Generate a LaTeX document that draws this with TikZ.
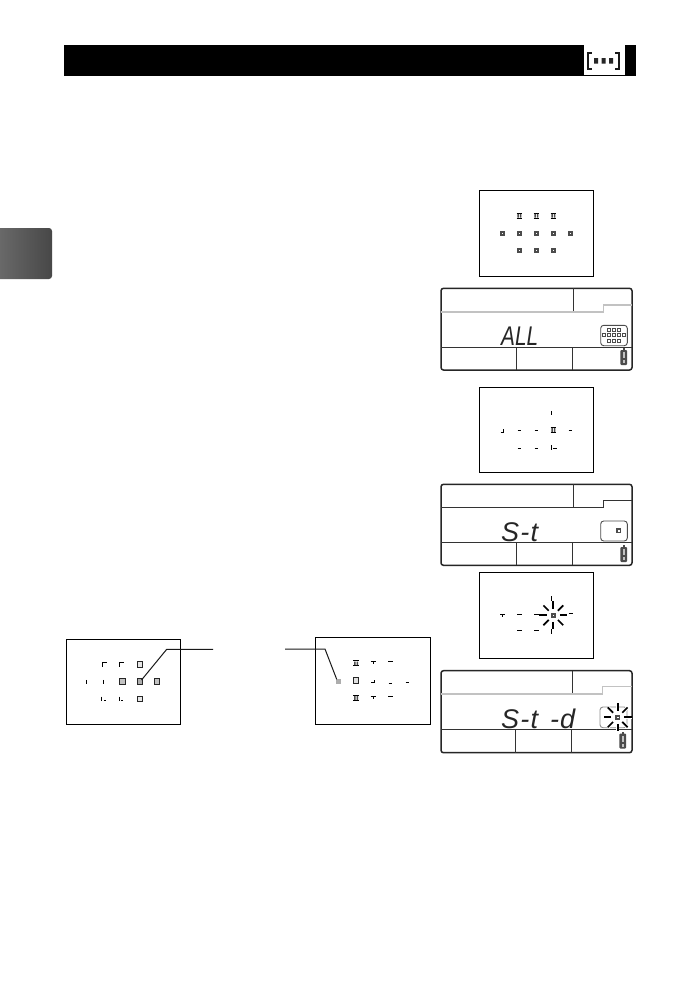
\documentclass[tikz,border=0pt]{standalone}
\usepackage{fontspec}
\setmainfont{Liberation Sans}
\usetikzlibrary{shadings}
\definecolor{lcdgrey}{gray}{0.76}
\definecolor{ptgrey}{gray}{0.68}
\tikzset{
  vf/.style={draw=black,line width=1pt,fill=white},
  lcdo/.style={draw=black!85,line width=1.5pt,rounded corners=2.5pt},
  lcdl/.style={draw=black!80,line width=0.9pt},
  lcdg/.style={draw=lcdgrey,line width=1.2pt},
  tick/.style={draw=black,line width=1pt},
  leader/.style={draw=black!90,line width=1pt},
  seg/.style={font=\itshape\fontsize{27}{27}\selectfont,text=black!85,inner sep=0pt,anchor=base west},
  burst/.style={draw=black,line width=1.7pt},
  halo/.style={draw=white,line width=3.5pt},
}
\newcommand{\afdot}[2]{\fill[black!70] (#1-2.4,#2-2.4) rectangle (#1+2.4,#2+2.4);
  \fill[white] (#1-0.8,#2-0.8) rectangle (#1+0.8,#2+0.8);}
\newcommand{\icondot}[2]{\draw[black!70,line width=0.7pt,fill=white] (#1-1.5,#2-1.5) rectangle (#1+1.5,#2+1.5);}
\newcommand{\afbar}[2]{\draw[tick,line width=1.1pt] (#1-2.7,#2-2.6) -- (#1+2.7,#2-2.6) (#1-2.7,#2+2.6) -- (#1+2.7,#2+2.6);
  \fill[black!70] (#1-2,#2-1.8) rectangle (#1-0.5,#2+1.8) (#1+0.5,#2-1.8) rectangle (#1+2,#2+1.8);}
\newcommand{\afdash}[2]{\draw[tick] (#1-1.7,#2) -- (#1+1.7,#2);}
\newcommand{\afvert}[2]{\draw[tick] (#1,#2-2.2) -- (#1,#2+2.2);}
\newcommand{\afbox}[3]{\draw[draw=black!85,line width=1.1pt,fill=#3] (#1-2.9,#2-2.9) rectangle (#1+2.9,#2+2.9);}
\newcommand{\afcornerTL}[2]{\draw[tick] (#1-2.2,#2+2.2) -- (#1-2.2,#2-2.2) -- (#1+2.4,#2-2.2);}
\newcommand{\afcornerBL}[2]{\draw[tick] (#1-2.2,#2-2.4) -- (#1-2.2,#2+1.5);\draw[tick] (#1-0.2,#2+1.5) -- (#1+1.8,#2+1.5);}
\newcommand{\battery}[2]{\fill[black!70,rounded corners=1pt] (#1-3.4,#2+2) rectangle (#1+3.4,#2+17);
  \fill[black!70] (#1-1.2,#2) rectangle (#1+1.2,#2+2);
  \fill[lcdgrey] (#1-1.2,#2+4) rectangle (#1+1.2,#2+10);
  \fill[lcdgrey] (#1-1.2,#2+12) rectangle (#1+1.2,#2+15);}
\newcommand{\lcdframe}[9]{%
  \draw[lcdo] (441,#1) rectangle (632,#2);
  \draw[lcdl] (441,#3) -- (632,#3);
  \draw[lcdl] (#6,#1) -- (#6,#4);
  \draw[lcdl] (#7,#3) -- (#7,#2) (#8,#3) -- (#8,#2);
  \draw[#9] (441,#4) -- (603.5,#4) -- (603.5,#5) -- (632,#5);}
\newcommand{\burstmark}[5]{\foreach \ang in {0,45,...,315} {\draw[#5] ({#1+#3*cos(\ang)},{#2+#3*sin(\ang)}) -- ({#1+#4*cos(\ang)},{#2+#4*sin(\ang)});}}
\begin{document}
\begin{tikzpicture}[x=1pt,y=-1pt]
\useasboundingbox (0,0) rectangle (697,991);
\fill[white] (0,0) rectangle (697,991);

% header and tab
\fill[black] (64,45) rectangle (636,76);
\fill[white] (584,45) rectangle (625,74.5);
\draw[black!90,line width=2pt] (591.5,52.5) -- (587.5,52.5) -- (587.5,69) -- (591.5,69);
\draw[black!90,line width=2pt] (615,52.5) -- (619,52.5) -- (619,69) -- (615,69);
\fill[black!85] (594,58) rectangle (598,63.5) (601.5,58) rectangle (605.5,63.5) (609,58) rectangle (613,63.5);
\shade[left color=black!58,right color=black!72,rounded corners=3pt] (-4,228) rectangle (52,279);

% viewfinder 1
\draw[vf] (479.3,190.3) rectangle (593.7,276.7);
\foreach \px in {519.3,536.3,553.3} {\afbar{\px}{215.7}\afdot{\px}{250.3}}
\foreach \px in {502.3,519.3,536.3,553.3,570.3} {\afdot{\px}{233.3}}

% LCD 1
\lcdframe{288.3}{370}{347.3}{312}{305}{573.3}{516.3}{572.3}{lcdg}
\node[seg,xscale=0.77] (allt) at (501,345.7) {ALL};
\draw[draw=black!70,line width=0.9pt,fill=white,rounded corners=3pt] (600.7,325.3) rectangle (627.3,345.7);
\foreach \px in {609,614,619} {\icondot{\px}{330}\icondot{\px}{340.7}}
\foreach \px in {604,609,614,619,624} {\icondot{\px}{335.3}}
\battery{623.7}{348}

% viewfinder 2
\draw[vf] (479.3,387.3) rectangle (593.7,472.3);
\afvert{551.7}{413}
\draw[tick] (500.5,432.5) -- (503.2,432.5) -- (503.2,429);
\foreach \px in {519.3,536.3,570.3} {\afdash{\px}{430.7}}
\afbar{553.3}{430}
\foreach \px in {519.3,536.3} {\afdash{\px}{448}}
\afvert{551.7}{447.5}\afdash{555}{448}

% LCD 2
\lcdframe{484.3}{565.3}{542.3}{507.3}{500}{573.3}{516.3}{572.3}{lcdl}
\node[seg] (st) at (501,541.3) {S\kern1.2pt-\kern1.2pt t};
\draw[draw=black!70,line width=0.9pt,fill=white,rounded corners=3pt] (600.7,521) rectangle (627.3,541);
\afdot{618.7}{530.7}
\battery{623.7}{545}

% viewfinder 3
\draw[vf] (479.3,572.3) rectangle (593.7,658.7);
\draw[tick] (500,614) -- (505.2,614) (502.7,614) -- (502.7,617);
\foreach \px in {519.7,536.7} {\draw[tick] (\px-2.5,614) -- (\px+2.5,614); \draw[tick] (\px-2.5,630.3) -- (\px+2.5,630.3);}
\burstmark{553.3}{615.3}{6.5}{14}{burst}
\afdot{553.3}{615.3}
\afvert{551.3}{631.5}\afvert{551.3}{598.5}
\draw[tick] (568.5,613.3) -- (573,613.3);

% LCD 3
\draw[lcdo] (441,670.7) rectangle (632,752.7);
\draw[lcdl] (441,729.3) -- (632,729.3);
\draw[lcdl] (572.3,670.7) -- (572.3,694);
\draw[lcdl] (515.3,729.3) -- (515.3,752.7) (571.3,729.3) -- (571.3,752.7);
\draw[lcdg] (441,694) -- (602.7,694) -- (602.7,686.7) -- (632,686.7);
\node[seg] (std) at (501,728) {S\kern1.2pt-\kern1.2pt t\kern12pt-\kern1pt d};
\draw[draw=black!45,line width=0.9pt,fill=white,rounded corners=3pt] (600,707) rectangle (627,727.7);
\burstmark{617.7}{717.3}{6.5}{14}{halo}
\burstmark{617.7}{717.3}{6.5}{14}{burst}
\afdot{617.7}{717.3}
\battery{622.7}{731.5}

% lower left viewfinder
\draw[vf] (66.3,639.3) rectangle (180.3,724.3);
\afcornerTL{105}{664.7}\afcornerTL{122}{664.7}
\afbox{140}{664.7}{lcdgrey!40}
\afvert{86.3}{682}\afvert{103.3}{682}
\afbox{122.7}{681.7}{lcdgrey}
\afbox{140}{681.7}{ptgrey}
\afbox{157}{681.7}{lcdgrey}
\afcornerBL{104}{699}\afcornerBL{121.3}{699}
\afbox{140}{699}{lcdgrey!40}
\coordinate (pointa) at (141.5,680);
\coordinate (benda) at (166.7,649.3);
\coordinate (enda) at (213,649.3);
\draw[leader] (pointa) -- (benda) -- (enda);

% lower right viewfinder
\draw[vf] (315.7,637.3) rectangle (430.3,724.3);
\foreach \py in {663.3,698} {\afbar{356}{\py}
  \draw[tick] (370.5,\py-1.8) -- (375.5,\py-1.8) (373.5,\py-1.8) -- (373.5,\py+1);
  \draw[tick] (388,\py-1.8) -- (393,\py-1.8);}
\afbox{356}{680.7}{lcdgrey!50}
\draw[tick] (371,682.5) -- (374.5,682.5) -- (374.5,679.5);
\draw[tick] (388.5,683) -- (392,683);
\draw[tick] (405.5,682) -- (409,682);
\fill[ptgrey] (335.8,678.8) rectangle (341,684);
\coordinate (pointb) at (336.7,679.3);
\coordinate (bendb) at (325,649);
\coordinate (endb) at (285,649);
\draw[leader] (endb) -- (bendb) -- (pointb);
\end{tikzpicture}
\end{document}
